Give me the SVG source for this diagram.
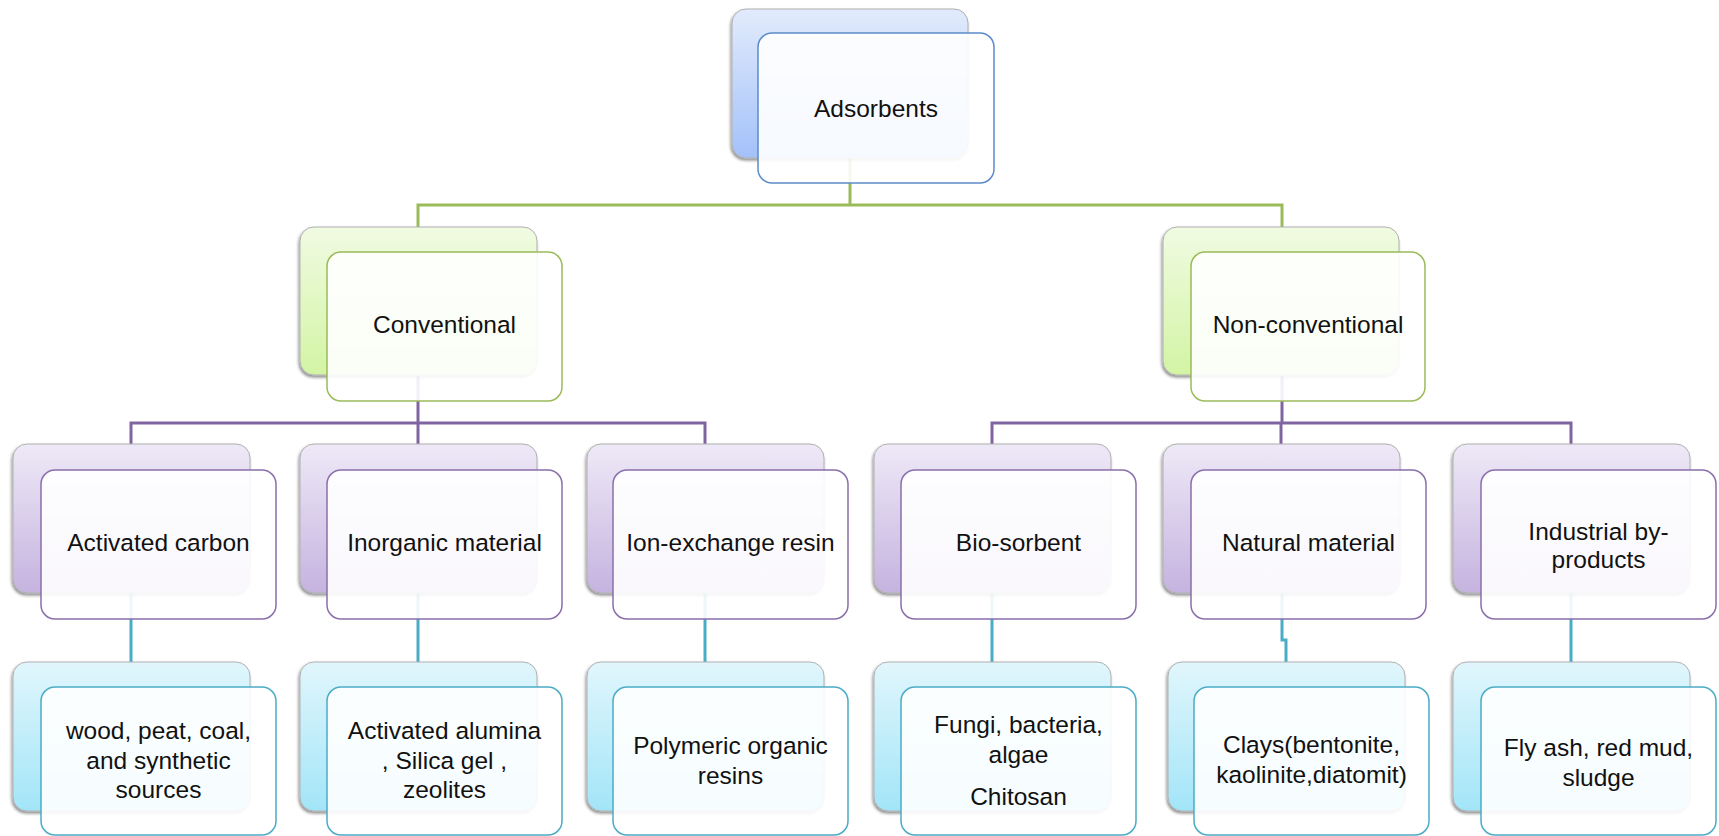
<svg xmlns="http://www.w3.org/2000/svg" width="1719" height="836" viewBox="0 0 1719 836">
<defs>
  <linearGradient id="gBlue" x1="0" y1="0" x2="0" y2="1"><stop offset="0" stop-color="#e2ebfc"/><stop offset="1" stop-color="#a3c1f9"/></linearGradient>
  <linearGradient id="gGreen" x1="0" y1="0" x2="0" y2="1"><stop offset="0" stop-color="#f0fbe2"/><stop offset="1" stop-color="#d3f4a4"/></linearGradient>
  <linearGradient id="gPurple" x1="0" y1="0" x2="0" y2="1"><stop offset="0" stop-color="#eee9f7"/><stop offset="1" stop-color="#c5b3df"/></linearGradient>
  <linearGradient id="gTeal" x1="0" y1="0" x2="0" y2="1"><stop offset="0" stop-color="#e1f6fc"/><stop offset="1" stop-color="#a2e5f8"/></linearGradient>
  <filter id="sh" x="-10%" y="-10%" width="120%" height="125%">
    <feDropShadow dx="-1" dy="2" stdDeviation="1.5" flood-color="#000" flood-opacity="0.45"/>
  </filter>
</defs>
<style>
  .back{stroke:#b0b0b0;stroke-width:1;filter:url(#sh)}
  .front{fill:#ffffff;fill-opacity:0.9;stroke-width:1.5}
  .b .back{fill:url(#gBlue)} .b .front{stroke:#5b8cc8}
  .g .back{fill:url(#gGreen)} .g .front{stroke:#9bbb59}
  .p .back{fill:url(#gPurple)} .p .front{stroke:#8a6fab}
  .t .back{fill:url(#gTeal)} .t .front{stroke:#4bacc6}
  text{font-family:"Liberation Sans",Arial,sans-serif;font-size:24.5px;fill:#111;text-anchor:middle}
  .con{fill:none;stroke-width:3}
  .cg{stroke:#9bbb59} .cp{stroke:#8064a2} .ct{stroke:#4bacc6}
</style>

<g id="connectors">
  <path class="con cg" d="M850 158 V205 H418 V227 M850 205 H1282 V227"/>
  <path class="con cp" d="M418 375 V423 M131 444 V423 H705 V444 M418 423 V444"/>
  <path class="con cp" d="M1282 375 V423 M992 444 V423 H1571 V444 M1281 423 V444"/>
  <path class="con ct" d="M131 593 V662 M418 593 V662 M705 593 V662 M992 593 V662 M1282 593 V640 H1286 V662 M1571 593 V662"/>
</g>

<g id="adsorbents" class="b">
  <rect class="back" x="732" y="9" width="236" height="149" rx="14"/>
  <rect class="front" x="758" y="33" width="236" height="150" rx="14"/>
  <text x="876" y="117">Adsorbents</text>
</g>

<g id="conventional" class="g">
  <rect class="back" x="300" y="227" width="237" height="148" rx="14"/>
  <rect class="front" x="327" y="252" width="235" height="149" rx="14"/>
  <text x="444.5" y="333">Conventional</text>
</g>
<g id="non-conventional" class="g">
  <rect class="back" x="1163" y="227" width="236" height="148" rx="14"/>
  <rect class="front" x="1191" y="252" width="234" height="149" rx="14"/>
  <text x="1308" y="333">Non-conventional</text>
</g>

<g id="activated-carbon" class="p">
  <rect class="back" x="13" y="444" width="237" height="149" rx="14"/>
  <rect class="front" x="41" y="470" width="235" height="149" rx="14"/>
  <text x="158.5" y="551">Activated carbon</text>
</g>
<g id="inorganic-material" class="p">
  <rect class="back" x="300" y="444" width="237" height="149" rx="14"/>
  <rect class="front" x="327" y="470" width="235" height="149" rx="14"/>
  <text x="444.5" y="551">Inorganic material</text>
</g>
<g id="ion-exchange-resin" class="p">
  <rect class="back" x="587" y="444" width="237" height="149" rx="14"/>
  <rect class="front" x="613" y="470" width="235" height="149" rx="14"/>
  <text x="730.5" y="551">Ion-exchange resin</text>
</g>
<g id="bio-sorbent" class="p">
  <rect class="back" x="874" y="444" width="237" height="149" rx="14"/>
  <rect class="front" x="901" y="470" width="235" height="149" rx="14"/>
  <text x="1018.5" y="551">Bio-sorbent</text>
</g>
<g id="natural-material" class="p">
  <rect class="back" x="1163" y="444" width="237" height="149" rx="14"/>
  <rect class="front" x="1191" y="470" width="235" height="149" rx="14"/>
  <text x="1308.5" y="551">Natural material</text>
</g>
<g id="industrial-by-products" class="p">
  <rect class="back" x="1453" y="444" width="237" height="149" rx="14"/>
  <rect class="front" x="1481" y="470" width="235" height="149" rx="14"/>
  <text x="1598.5" y="540">Industrial by-</text>
  <text x="1598.5" y="568">products</text>
</g>

<g id="wood-peat-coal" class="t">
  <rect class="back" x="13" y="662" width="237" height="149" rx="14"/>
  <rect class="front" x="41" y="687" width="235" height="148" rx="14"/>
  <text x="158.5" y="739">wood, peat, coal,</text>
  <text x="158.5" y="769">and synthetic</text>
  <text x="158.5" y="798">sources</text>
</g>
<g id="activated-alumina" class="t">
  <rect class="back" x="300" y="662" width="237" height="149" rx="14"/>
  <rect class="front" x="327" y="687" width="235" height="148" rx="14"/>
  <text x="444.5" y="739">Activated alumina</text>
  <text x="444.5" y="769">, Silica gel ,</text>
  <text x="444.5" y="798">zeolites</text>
</g>
<g id="polymeric-resins" class="t">
  <rect class="back" x="587" y="662" width="237" height="149" rx="14"/>
  <rect class="front" x="613" y="687" width="235" height="148" rx="14"/>
  <text x="730.5" y="754">Polymeric organic</text>
  <text x="730.5" y="784">resins</text>
</g>
<g id="fungi-bacteria" class="t">
  <rect class="back" x="874" y="662" width="237" height="149" rx="14"/>
  <rect class="front" x="901" y="687" width="235" height="148" rx="14"/>
  <text x="1018.5" y="733">Fungi, bacteria,</text>
  <text x="1018.5" y="763">algae</text>
  <text x="1018.5" y="805">Chitosan</text>
</g>
<g id="clays" class="t">
  <rect class="back" x="1168" y="662" width="237" height="149" rx="14"/>
  <rect class="front" x="1194" y="687" width="235" height="148" rx="14"/>
  <text x="1311.5" y="753">Clays(bentonite,</text>
  <text x="1311.5" y="783">kaolinite,diatomit)</text>
</g>
<g id="fly-ash" class="t">
  <rect class="back" x="1453" y="662" width="237" height="149" rx="14"/>
  <rect class="front" x="1481" y="687" width="235" height="148" rx="14"/>
  <text x="1598.5" y="756">Fly ash, red mud,</text>
  <text x="1598.5" y="786">sludge</text>
</g>
</svg>
